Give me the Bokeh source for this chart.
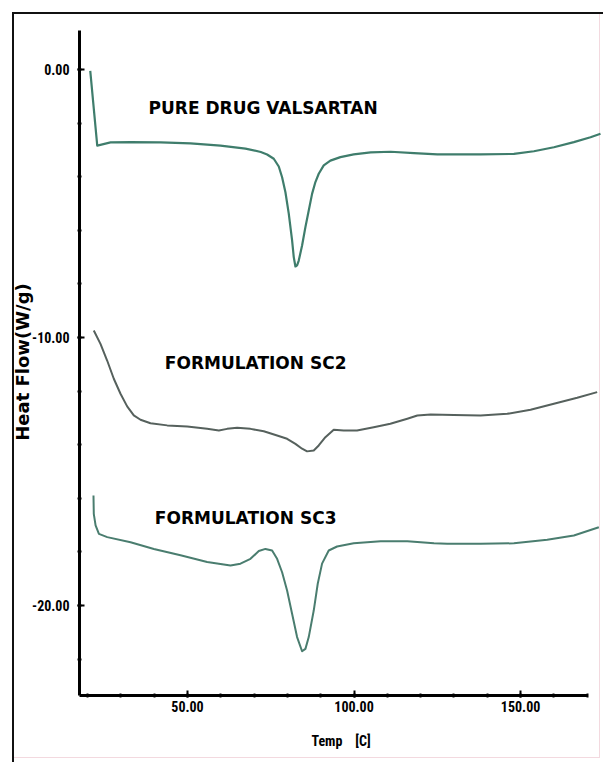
from bokeh.plotting import figure
from bokeh.models import FixedTicker, Label, CustomJSTickFormatter
from bokeh.embed import file_html
from bokeh.resources import INLINE

# Temperature (C) and heat flow (W/g)
pure_temp = [20.8, 22.9, 26.9, 32.9, 41.9, 50.9, 59.9, 67.4, 72.0, 73.9, 75.9, 77.4, 78.4, 79.4,
             80.4, 81.4, 81.9, 82.4, 82.9, 83.4, 84.4, 85.4, 86.4, 87.4, 88.4, 89.4, 90.9,
             92.9, 95.9, 99.9, 105.0, 111.0, 118.0, 125.0, 138.0, 148.0, 154.0, 160.0, 166.0,
             171.0, 174.0]
pure_flow = [-0.05, -2.84, -2.72, -2.71, -2.72, -2.76, -2.84, -2.95, -3.08, -3.17, -3.33, -3.62,
             -4.02, -4.58, -5.38, -6.38, -7.00, -7.35, -7.31, -7.13, -6.57, -5.88, -5.26, -4.64,
             -4.20, -3.89, -3.58, -3.40, -3.27, -3.17, -3.09, -3.07, -3.12, -3.17, -3.17, -3.15,
             -3.05, -2.90, -2.71, -2.53, -2.40]

sc2_temp = [21.86, 23.87, 25.87, 27.87, 29.88, 31.88, 33.87, 35.89, 38.89, 43.9, 49.9, 55.9,
            59.4, 61.9, 64.9, 68.9, 72.9, 76.9, 79.9, 82.4, 84.4, 85.9, 87.9, 89.4, 91.4,
            93.9, 96.9, 100.9, 105.9, 110.9, 116.0, 119.0, 123.0, 130.0, 138.0, 146.0, 153.0,
            160.0, 167.0, 173.0]
sc2_flow = [-9.74, -10.24, -10.86, -11.54, -12.10, -12.57, -12.91, -13.07, -13.20, -13.28, -13.32,
            -13.41, -13.47, -13.41, -13.37, -13.41, -13.50, -13.66, -13.78, -13.97, -14.15, -14.25,
            -14.22, -14.03, -13.72, -13.44, -13.47, -13.47, -13.35, -13.22, -13.03, -12.91, -12.87,
            -12.89, -12.91, -12.85, -12.70, -12.47, -12.25, -12.04]

sc3_temp = [21.77, 21.86, 22.4, 23.4, 25.9, 32.9, 39.9, 47.9, 55.9, 62.9, 65.9, 68.9, 71.4,
            73.4, 75.4, 76.9, 78.4, 79.9, 81.4, 82.9, 84.4, 85.4, 86.4, 87.9, 89.1, 90.4, 92.4,
            94.9, 99.9, 108.0, 116.0, 124.0, 128.0, 138.0, 148.0, 158.0, 166.0, 173.5]
sc3_flow = [-15.90, -16.58, -17.01, -17.33, -17.45, -17.64, -17.89, -18.13, -18.38, -18.51, -18.44,
            -18.26, -17.97, -17.89, -17.95, -18.26, -18.76, -19.44, -20.31, -21.18, -21.71, -21.62,
            -21.18, -20.19, -19.19, -18.44, -17.95, -17.80, -17.68, -17.60, -17.60, -17.68, -17.70,
            -17.70, -17.68, -17.55, -17.39, -17.08]

series_names = ["PURE DRUG VALSARTAN", "FORMULATION SC2", "FORMULATION SC3"]
x_major = [50, 100, 150]
x_minor = [20, 30, 40, 50, 60, 70, 80, 90, 100, 110, 120, 130, 140, 150, 160, 170]
y_major = [0, -10, -20]
y_minor = [0, -2, -4, -6, -8, -10, -12, -14, -16, -18, -20, -22]

p = figure(width=603, height=762, output_backend="svg", toolbar_location=None,
           x_range=(17.57, 174.6), y_range=(-23.36, 1.53),
           min_border_left=79, min_border_right=1, min_border_top=28, min_border_bottom=67)

p.grid.visible = False
p.outline_line_color = None
p.background_fill_color = None
p.border_fill_color = None
# outer picture border (black left/top, faint pink right/bottom)
p.styles = {"box-shadow": "inset 12px 12px 0 0 #ffffff, inset 14px 14px 0 0 #111111, "
                          "inset -3px -4px 0 0 #ffffff, inset -4px -5px 0 0 #f3d9df",
            "background-color": "#ffffff"}

tick_font = "Liberation Sans Narrow, Noto Sans Condensed, Roboto Condensed, DejaVu Sans Condensed, Liberation Sans"

p.xaxis.ticker = FixedTicker(ticks=x_major, minor_ticks=x_minor)
p.yaxis.ticker = FixedTicker(ticks=y_major, minor_ticks=y_minor)
p.xaxis.formatter = CustomJSTickFormatter(code="return tick.toFixed(2);")
p.yaxis.formatter = CustomJSTickFormatter(code="return tick.toFixed(2);")
p.xaxis.bounds = (17.57, 170)
p.yaxis.bounds = (-23.36, 1.46)

for ax in (p.xaxis[0], p.yaxis[0]):
    ax.axis_line_width = 3
    ax.axis_line_color = "black"
    ax.major_tick_line_width = 2
    ax.major_tick_in = 5
    ax.major_tick_out = 2
    ax.minor_tick_line_width = 2
    ax.minor_tick_in = 2
    ax.minor_tick_out = 2
    ax.major_label_text_font = tick_font
    ax.major_label_text_font_style = "bold"
    ax.major_label_text_font_size = "14px"
    ax.major_label_text_color = "black"
    ax.axis_label_text_font_style = "bold"
    ax.axis_label_text_color = "black"

p.xaxis.major_label_standoff = 3
p.yaxis.major_label_standoff = 8
p.xaxis.axis_label = "Temp\u00a0\u00a0\u00a0\u00a0[C]"
p.xaxis.axis_label_text_font = tick_font
p.xaxis.axis_label_text_font_size = "14px"
p.xaxis.axis_label_standoff = 18
p.yaxis.axis_label = "Heat Flow(W/g)"
p.yaxis.axis_label_text_font = "DejaVu Sans"
p.yaxis.axis_label_text_font_size = "18px"
p.yaxis.axis_label_standoff = -4

p.line(pure_temp, pure_flow, line_color="#3f7d6c", line_width=2.2, line_join="round")
p.line(sc2_temp, sc2_flow, line_color="#56615d", line_width=2, line_join="round")
p.line(sc3_temp, sc3_flow, line_color="#4a7d6f", line_width=2, line_join="round")

label_pos = [(38.3, -1.45), (43.2, -10.97), (40.2, -16.75)]
for name, (lx, ly) in zip(series_names, label_pos):
    p.add_layout(Label(x=lx, y=ly, text=name, text_font="DejaVu Sans",
                       text_font_style="bold", text_font_size="17px",
                       text_color="black", text_baseline="middle"))

open("out.html", "w").write(file_html(p, INLINE))
